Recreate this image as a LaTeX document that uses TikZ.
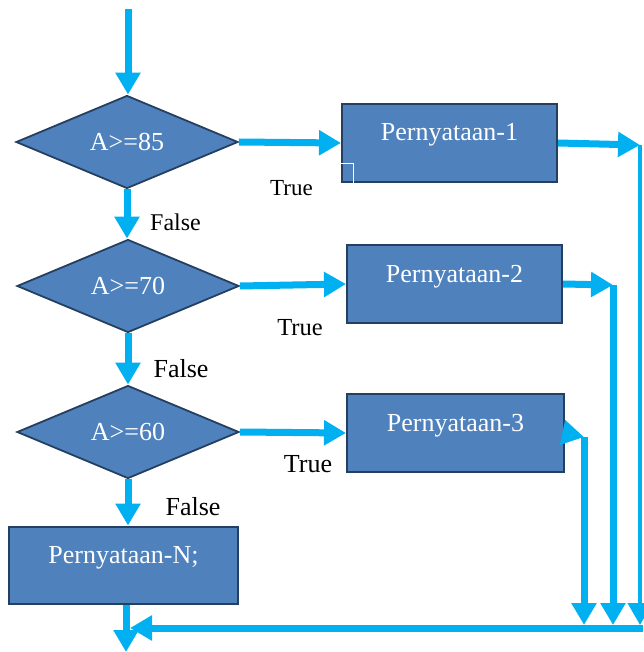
\documentclass[tikz,border=0pt]{standalone}
\usepackage{fontspec}
\setmainfont{Liberation Serif}
\usetikzlibrary{arrows.meta,shapes.geometric}
\definecolor{flowfill}{HTML}{4F81BD}
\definecolor{flowedge}{HTML}{243F60}
\definecolor{flowline}{HTML}{00B0F0}
\begin{document}
\begin{tikzpicture}[x=1pt,y=-1pt,
  decision/.style={diamond, aspect=2.4, draw=flowedge, fill=flowfill, line width=1.8pt,
    minimum width=222pt, minimum height=93pt, inner sep=0pt, text=white,
    font=\fontsize{26}{30}\selectfont},
  process/.style={rectangle, draw=flowedge, fill=flowfill, line width=2pt,
    minimum height=78pt, inner sep=0pt, text=white,
    font=\fontsize{26}{30}\selectfont},
  flow/.style={draw=flowline, line width=7pt, -{Triangle[length=22pt,width=24pt]}},
  tag/.style={anchor=base, inner sep=0pt, text=black}]
\useasboundingbox (0,0) rectangle (643,652);

% decisions
\node[decision] (d1) at (127,142) {A>=85};
\node[decision] (d2) at (128,286) {A>=70};
\node[decision] (d3) at (128,432) {A>=60};

% statements
\node[process, minimum width=215pt] (b1) at (449.5,143) {\raisebox{2pt}[0pt][0pt]{Pernyataan-1}};
\node[process, minimum width=215pt] (b2) at (454.5,284) {\raisebox{2pt}[0pt][0pt]{Pernyataan-2}};
\node[process, minimum width=217pt] (b3) at (455.5,433) {\raisebox{2pt}[0pt][0pt]{Pernyataan-3}};
\node[process, minimum width=229pt, minimum height=77pt] (bn) at (123.5,565) {\raisebox{2pt}[0pt][0pt]{Pernyataan-N;}};
\draw[white, line width=0.8pt] ([yshift=20pt]b1.south west) -- ++(12,0) -- ++(0,20);

% branch labels
\node[tag, font=\fontsize{23}{27}\selectfont] (t1) at (291.5,196) {True};
\node[tag, font=\fontsize{24}{28}\selectfont] (f1) at (175.5,230) {False};
\node[tag, font=\fontsize{24.5}{29}\selectfont] (t2) at (300,335) {True};
\node[tag, font=\fontsize{26}{30}\selectfont] (f2) at (181,377) {False};
\node[tag, font=\fontsize{26}{30}\selectfont] (t3) at (308,472) {True};
\node[tag, font=\fontsize{26}{30}\selectfont] (f3) at (193,515) {False};

% junction points on the right and bottom
\coordinate (entry) at (128,9);
\coordinate (r1) at (640,145);
\coordinate (r1b) at (640,625);
\coordinate (r2) at (613,285);
\coordinate (r2b) at (613,625);
\coordinate (r3) at (584,437);
\coordinate (r3b) at (584,625);
\coordinate (rail) at (643,628);
\coordinate (merge) at (130,628);
\coordinate (exit) at (126,652);

% main path
\draw[flow] (entry) -- (entry |- d1.north);
\draw[flow] (d1.south) -- (d1.south |- d2.north);
\draw[flow] (d2.south) -- (d3.north);
\draw[flow] (d3.south) -- (d3.south |- bn.north);

% true branches
\draw[flow] (d1.east) -- (b1.west);
\draw[flow] (d2.east) -- (b2.west);
\draw[flow] (d3.east) -- (b3.west);

% returns to the common exit
\draw[flow] (b1.east) -- (r1);
\draw[flow] (b2.east) -- (r2);
\draw[flow] (b3.east) -- (r3);
\draw[flow, line width=4pt] (r1) -- (r1b);
\draw[flow] (r2) -- (r2b);
\draw[flow] (r3) -- (r3b);
\draw[flow] (rail) -- (merge);
\draw[flow] (bn.south -| exit) -- (exit);
\end{tikzpicture}
\end{document}
